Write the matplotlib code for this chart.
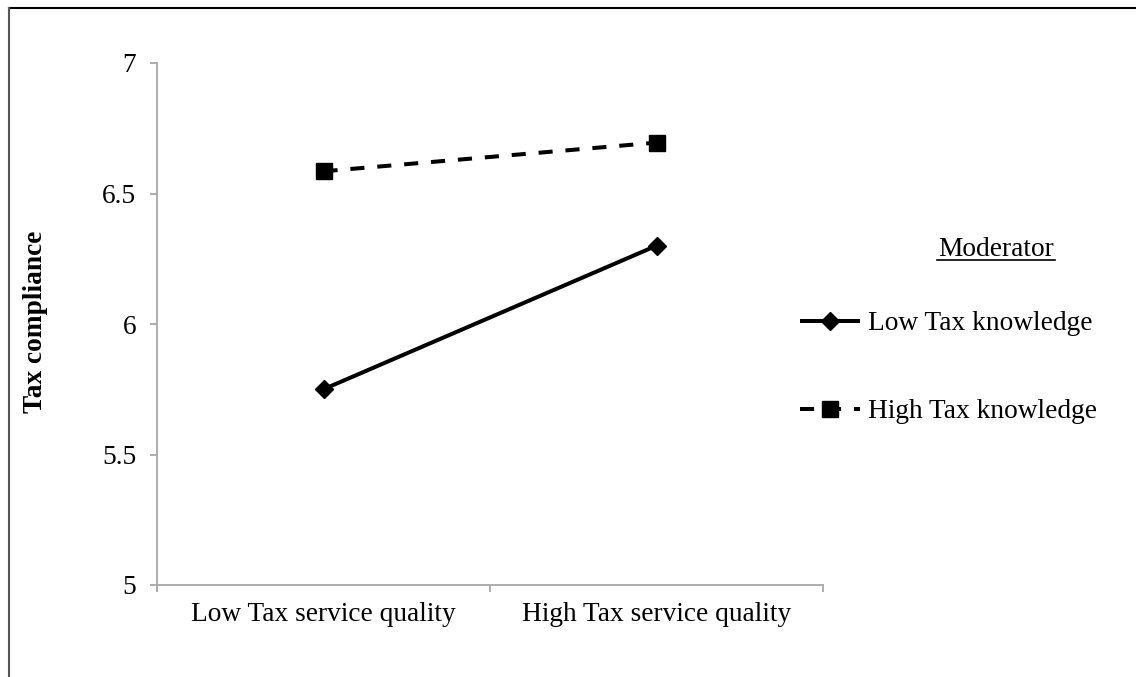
import matplotlib.pyplot as plt
from matplotlib.lines import Line2D

# data
categories = ['Low Tax service quality', 'High Tax service quality']
low_knowledge = [5.75, 6.30]
high_knowledge = [6.585, 6.695]
series_names = ['Low Tax knowledge', 'High Tax knowledge']
y_ticks = [5, 5.5, 6, 6.5, 7]
y_labels = ['5', '5.5', '6', '6.5', '7']

W, H = 1136, 677
plt.rcParams['font.family'] = ['Liberation Serif', 'DejaVu Serif']
FS = 19.7
GRAY = '#a6a6a6'


def fx(px):
    return px / W


def fy(py):
    return 1 - py / H


fig = plt.figure(figsize=(W / 100, H / 100), dpi=100)
ax = fig.add_axes([fx(157), fy(585), fx(823) - fx(157), fy(63) - fy(585)])

xs = [0.5, 1.5]
l1, = ax.plot(xs, low_knowledge, color='black', lw=2.9, marker='D', ms=9.5,
              label=series_names[0], solid_capstyle='butt')
l2, = ax.plot(xs, high_knowledge, color='black', lw=2.9, marker='s', ms=11.5,
              label=series_names[1], dashes=(3.5, 3.2))

ax.set_xlim(0, 2)
ax.set_ylim(5, 7)
ax.set_yticks(y_ticks)
ax.set_yticklabels(y_labels, fontsize=FS)
ax.set_xticks([0, 1, 2])
ax.set_xticklabels([])
ax.set_xticks(xs, minor=True)
ax.set_xticklabels(categories, minor=True, fontsize=FS)
ax.tick_params(axis='x', which='minor', length=0, pad=12)
ax.tick_params(axis='x', which='major', length=5, width=1.3, color=GRAY, direction='out')
ax.tick_params(axis='y', length=5, width=1.3, color=GRAY, direction='out', pad=10)

for s in ['top', 'right']:
    ax.spines[s].set_visible(False)
for s in ['left', 'bottom']:
    ax.spines[s].set_color(GRAY)
    ax.spines[s].set_linewidth(1.3)

fig.text(fx(36), fy(322), 'Tax compliance', rotation=90, fontsize=FS,
         fontweight='bold', ha='center', va='center')

# legend with underlined title
fig.text(fx(996), fy(249), 'Moderator', fontsize=FS, ha='center', va='center')
fig.add_artist(Line2D([fx(937), fx(1055)], [fy(260), fy(260)], color='black', lw=1.2))
fig.legend(handles=[l1, l2], loc='upper left', bbox_to_anchor=(fx(800), fy(311)),
           frameon=False, fontsize=FS, handlelength=2.2, handletextpad=0.3,
           labelspacing=2.3, borderpad=0, borderaxespad=0)

# outer frame
fig.add_artist(Line2D([fx(9), 1], [fy(8), fy(8)], color='black', lw=1.5))
fig.add_artist(Line2D([fx(9), fx(9)], [fy(8), 0], color='#555555', lw=1.5))

fig.savefig('out.png', dpi=100)
